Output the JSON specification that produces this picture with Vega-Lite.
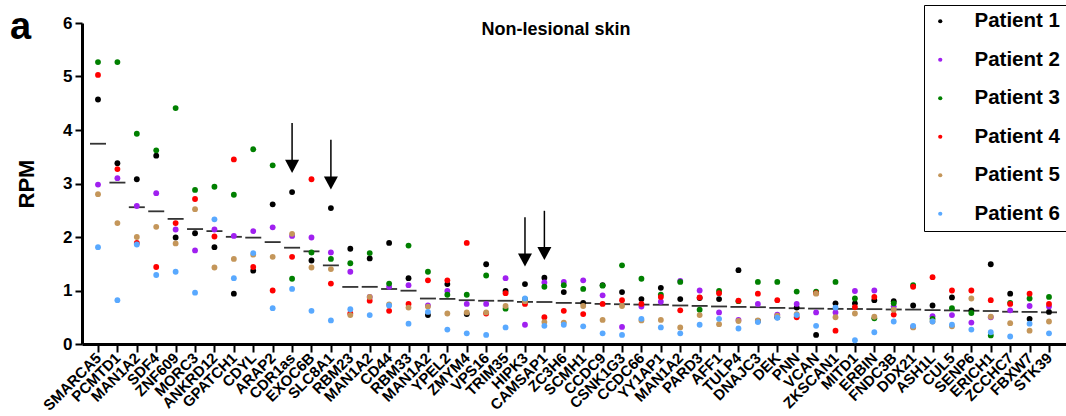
{
  "$schema": "https://vega.github.io/schema/vega-lite/v6.json",
  "width": 984,
  "height": 321,
  "autosize": {"type": "none"},
  "padding": {"left": 82, "top": 23, "right": 0, "bottom": 72},
  "background": "white",
  "title": {"text": "a", "anchor": "start", "frame": "group", "fontSize": 38, "fontWeight": "bold", "font": "Liberation Sans", "color": "black", "dx": -72, "offset": 0, "dy": 72, "baseline": "alphabetic"},
  "config": {
    "view": {"stroke": null},
    "font": "Liberation Sans"
  },
  "datasets": {
    "genes": [
      {"i":1,"g":"SMARCA5","Patient 1":4.57,"Patient 2":2.98,"Patient 3":5.27,"Patient 4":5.03,"Patient 5":2.80,"Patient 6":1.81},
      {"i":2,"g":"PCMTD1","Patient 1":3.38,"Patient 2":3.10,"Patient 3":5.27,"Patient 4":3.27,"Patient 5":2.26,"Patient 6":0.82},
      {"i":3,"g":"MAN1A2","Patient 1":3.08,"Patient 2":2.58,"Patient 3":3.93,"Patient 4":1.89,"Patient 5":2.00,"Patient 6":1.86},
      {"i":4,"g":"SDF4","Patient 1":3.52,"Patient 2":2.82,"Patient 3":3.62,"Patient 4":1.44,"Patient 5":2.19,"Patient 6":1.29},
      {"i":5,"g":"ZNF609","Patient 1":1.99,"Patient 2":2.14,"Patient 3":4.41,"Patient 4":2.26,"Patient 5":1.88,"Patient 6":1.35},
      {"i":6,"g":"MORC3","Patient 1":2.07,"Patient 2":1.75,"Patient 3":2.88,"Patient 4":2.71,"Patient 5":2.52,"Patient 6":0.96},
      {"i":7,"g":"ANKRD12","Patient 1":1.81,"Patient 2":2.14,"Patient 3":2.94,"Patient 4":2.01,"Patient 5":1.43,"Patient 6":2.33},
      {"i":8,"g":"GPATCH1","Patient 1":0.94,"Patient 2":2.02,"Patient 3":2.79,"Patient 4":3.45,"Patient 5":1.59,"Patient 6":1.23},
      {"i":9,"g":"CDYL","Patient 1":1.37,"Patient 2":2.11,"Patient 3":3.64,"Patient 4":1.44,"Patient 5":1.67,"Patient 6":1.70},
      {"i":10,"g":"ARAP2","Patient 1":2.61,"Patient 2":2.18,"Patient 3":3.34,"Patient 4":1.00,"Patient 5":1.63,"Patient 6":0.67},
      {"i":11,"g":"CDR1as","Patient 1":2.84,"Patient 2":2.02,"Patient 3":1.22,"Patient 4":1.63,"Patient 5":2.06,"Patient 6":1.03},
      {"i":12,"g":"EXOC6B","Patient 1":1.56,"Patient 2":1.99,"Patient 3":1.71,"Patient 4":3.08,"Patient 5":1.43,"Patient 6":0.62},
      {"i":13,"g":"SLC8A1","Patient 1":2.54,"Patient 2":1.71,"Patient 3":1.59,"Patient 4":1.13,"Patient 5":1.40,"Patient 6":0.44},
      {"i":14,"g":"RBM23","Patient 1":1.78,"Patient 2":1.35,"Patient 3":1.51,"Patient 4":0.57,"Patient 5":0.54,"Patient 6":0.65},
      {"i":15,"g":"MAN1A2","Patient 1":1.60,"Patient 2":0.88,"Patient 3":1.70,"Patient 4":0.81,"Patient 5":0.88,"Patient 6":0.54},
      {"i":16,"g":"CD44","Patient 1":1.89,"Patient 2":1.07,"Patient 3":1.13,"Patient 4":0.62,"Patient 5":0.74,"Patient 6":0.72},
      {"i":17,"g":"RBM33","Patient 1":1.23,"Patient 2":1.10,"Patient 3":1.84,"Patient 4":0.75,"Patient 5":0.68,"Patient 6":0.38},
      {"i":18,"g":"MAN1A2","Patient 1":0.54,"Patient 2":0.72,"Patient 3":1.35,"Patient 4":1.19,"Patient 5":0.70,"Patient 6":0.60},
      {"i":19,"g":"YPEL2","Patient 1":1.12,"Patient 2":0.99,"Patient 3":0.92,"Patient 4":1.19,"Patient 5":0.57,"Patient 6":0.27},
      {"i":20,"g":"ZMYM4","Patient 1":0.56,"Patient 2":0.75,"Patient 3":0.92,"Patient 4":1.89,"Patient 5":0.59,"Patient 6":0.20},
      {"i":21,"g":"VPS16","Patient 1":1.49,"Patient 2":0.75,"Patient 3":1.28,"Patient 4":0.57,"Patient 5":0.59,"Patient 6":0.17},
      {"i":22,"g":"TRIM35","Patient 1":0.99,"Patient 2":1.23,"Patient 3":0.66,"Patient 4":0.95,"Patient 5":0.71,"Patient 6":0.31},
      {"i":23,"g":"HIPK3","Patient 1":1.12,"Patient 2":0.36,"Patient 3":0.84,"Patient 4":0.75,"Patient 5":0.80,"Patient 6":0.85},
      {"i":24,"g":"CAMSAP1","Patient 1":1.24,"Patient 2":1.15,"Patient 3":1.07,"Patient 4":0.50,"Patient 5":0.41,"Patient 6":0.34},
      {"i":25,"g":"ZC3H6","Patient 1":0.97,"Patient 2":1.16,"Patient 3":1.10,"Patient 4":0.62,"Patient 5":0.40,"Patient 6":0.36},
      {"i":26,"g":"SCMH1","Patient 1":0.77,"Patient 2":1.19,"Patient 3":1.03,"Patient 4":0.56,"Patient 5":0.71,"Patient 6":0.33},
      {"i":27,"g":"CCDC9","Patient 1":1.10,"Patient 2":0.91,"Patient 3":1.09,"Patient 4":0.75,"Patient 5":0.45,"Patient 6":0.20},
      {"i":28,"g":"CSNK1G3","Patient 1":0.97,"Patient 2":0.32,"Patient 3":1.47,"Patient 4":0.82,"Patient 5":0.71,"Patient 6":0.17},
      {"i":29,"g":"CCDC66","Patient 1":0.84,"Patient 2":0.70,"Patient 3":1.22,"Patient 4":0.75,"Patient 5":0.44,"Patient 6":0.47},
      {"i":30,"g":"YY1AP1","Patient 1":1.05,"Patient 2":0.79,"Patient 3":0.92,"Patient 4":0.88,"Patient 5":0.45,"Patient 6":0.31},
      {"i":31,"g":"MAN1A2","Patient 1":0.84,"Patient 2":1.18,"Patient 3":1.16,"Patient 4":0.63,"Patient 5":0.31,"Patient 6":0.20},
      {"i":32,"g":"PARD3","Patient 1":0.86,"Patient 2":1.00,"Patient 3":0.64,"Patient 4":0.87,"Patient 5":0.54,"Patient 6":0.36},
      {"i":33,"g":"AFF1","Patient 1":0.84,"Patient 2":0.59,"Patient 3":0.99,"Patient 4":0.95,"Patient 5":0.37,"Patient 6":0.47},
      {"i":34,"g":"TULP4","Patient 1":1.38,"Patient 2":0.45,"Patient 3":0.80,"Patient 4":0.81,"Patient 5":0.43,"Patient 6":0.29},
      {"i":35,"g":"DNAJC3","Patient 1":0.43,"Patient 2":0.75,"Patient 3":1.16,"Patient 4":0.94,"Patient 5":0.44,"Patient 6":0.41},
      {"i":36,"g":"DEK","Patient 1":0.50,"Patient 2":0.55,"Patient 3":1.16,"Patient 4":0.82,"Patient 5":0.53,"Patient 6":0.49},
      {"i":37,"g":"PNN","Patient 1":0.68,"Patient 2":0.75,"Patient 3":0.98,"Patient 4":0.50,"Patient 5":0.56,"Patient 6":0.54},
      {"i":38,"g":"VCAN","Patient 1":0.17,"Patient 2":0.59,"Patient 3":0.98,"Patient 4":0.95,"Patient 5":0.94,"Patient 6":0.34},
      {"i":39,"g":"ZKSCAN1","Patient 1":0.76,"Patient 2":0.59,"Patient 3":1.16,"Patient 4":0.25,"Patient 5":0.50,"Patient 6":0.68},
      {"i":40,"g":"MITD1","Patient 1":0.76,"Patient 2":0.99,"Patient 3":0.85,"Patient 4":0.69,"Patient 5":0.57,"Patient 6":0.07},
      {"i":41,"g":"ERBIN","Patient 1":0.82,"Patient 2":1.00,"Patient 3":0.48,"Patient 4":0.88,"Patient 5":0.51,"Patient 6":0.22},
      {"i":42,"g":"FNDC3B","Patient 1":0.80,"Patient 2":0.70,"Patient 3":0.76,"Patient 4":0.55,"Patient 5":0.64,"Patient 6":0.42},
      {"i":43,"g":"DDX21","Patient 1":0.72,"Patient 2":0.32,"Patient 3":1.10,"Patient 4":1.07,"Patient 5":0.31,"Patient 6":0.34},
      {"i":44,"g":"ASH1L","Patient 1":0.72,"Patient 2":0.52,"Patient 3":0.47,"Patient 4":1.25,"Patient 5":0.42,"Patient 6":0.42},
      {"i":45,"g":"CUL5","Patient 1":0.87,"Patient 2":0.54,"Patient 3":0.67,"Patient 4":1.00,"Patient 5":0.33,"Patient 6":0.36},
      {"i":46,"g":"SENP6","Patient 1":0.63,"Patient 2":0.40,"Patient 3":0.58,"Patient 4":1.00,"Patient 5":0.85,"Patient 6":0.27},
      {"i":47,"g":"ERICH1","Patient 1":1.49,"Patient 2":0.50,"Patient 3":0.16,"Patient 4":0.82,"Patient 5":0.51,"Patient 6":0.22},
      {"i":48,"g":"ZCCHC7","Patient 1":0.94,"Patient 2":0.63,"Patient 3":0.77,"Patient 4":0.75,"Patient 5":0.39,"Patient 6":0.14},
      {"i":49,"g":"FBXW7","Patient 1":0.47,"Patient 2":0.71,"Patient 3":0.85,"Patient 4":0.94,"Patient 5":0.25,"Patient 6":0.38},
      {"i":50,"g":"STK39","Patient 1":0.60,"Patient 2":0.70,"Patient 3":0.88,"Patient 4":0.75,"Patient 5":0.42,"Patient 6":0.20}
    ],
    "arrows": [
      {"i": 11, "top": 4.13, "head": 3.32},
      {"i": 13, "top": 3.82, "head": 3.01},
      {"i": 23, "top": 2.37, "head": 1.57},
      {"i": 24, "top": 2.49, "head": 1.69}
    ],
    "label": [
      {"i": 24.6, "y": 5.78, "t": "Non-lesional skin"}
    ]
  },
  "encoding": {
    "x": {
      "field": "i", "type": "quantitative",
      "scale": {"domain": [0.1756, 50.876], "nice": false, "zero": false},
      "axis": {
        "values": [1,2,3,4,5,6,7,8,9,10,11,12,13,14,15,16,17,18,19,20,21,22,23,24,25,26,27,28,29,30,31,32,33,34,35,36,37,38,39,40,41,42,43,44,45,46,47,48,49,50],
        "labelExpr": "['SMARCA5','PCMTD1','MAN1A2','SDF4','ZNF609','MORC3','ANKRD12','GPATCH1','CDYL','ARAP2','CDR1as','EXOC6B','SLC8A1','RBM23','MAN1A2','CD44','RBM33','MAN1A2','YPEL2','ZMYM4','VPS16','TRIM35','HIPK3','CAMSAP1','ZC3H6','SCMH1','CCDC9','CSNK1G3','CCDC66','YY1AP1','MAN1A2','PARD3','AFF1','TULP4','DNAJC3','DEK','PNN','VCAN','ZKSCAN1','MITD1','ERBIN','FNDC3B','DDX21','ASH1L','CUL5','SENP6','ERICH1','ZCCHC7','FBXW7','STK39'][datum.value-1]",
        "labelAngle": -45, "labelAlign": "right", "labelBaseline": "middle",
        "labelFont": "Liberation Sans", "labelFontSize": 15, "labelFontWeight": "bold", "labelColor": "black",
        "labelPadding": 3, "labelOverlap": false, "labelBound": false, "labelFlush": false,
        "domainColor": "black", "domainWidth": 3, "tickColor": "black", "tickWidth": 2, "tickSize": 8,
        "grid": false, "title": null
      }
    }
  },
  "layer": [
    {
      "data": {"name": "genes"},
      "transform": [{"fold": ["Patient 1","Patient 2","Patient 3","Patient 4","Patient 5","Patient 6"], "as": ["patient","rpm"]}],
      "mark": {"type": "tick", "orient": "horizontal", "size": 16, "thickness": 1.8, "color": "#333333"},
      "encoding": {
        "y": {
          "aggregate": "mean", "field": "rpm", "type": "quantitative",
          "scale": {"domain": [0, 6], "nice": false},
          "axis": {
            "values": [0,1,2,3,4,5,6], "format": "d", "labelFont": "Liberation Sans", "labelFontSize": 17, "labelFontWeight": "bold", "labelColor": "black",
            "labelPadding": 3, "domainColor": "black", "domainWidth": 3, "tickColor": "black", "tickWidth": 2, "tickSize": 7,
            "grid": false, "title": "RPM", "titleFont": "Liberation Sans", "titleFontSize": 22, "titleFontWeight": "bold", "titleColor": "black", "titlePadding": 24
          }
        }
      }
    },
    {
      "data": {"name": "genes"},
      "transform": [{"fold": ["Patient 1","Patient 2","Patient 3","Patient 4","Patient 5","Patient 6"], "as": ["patient","rpm"]}],
      "mark": {"type": "point", "filled": true, "shape": "circle", "size": 34, "opacity": 1, "strokeWidth": 0},
      "encoding": {
        "y": {"field": "rpm", "type": "quantitative"},
        "color": {
          "field": "patient", "type": "nominal",
          "scale": {"domain": ["Patient 1","Patient 2","Patient 3","Patient 4","Patient 5","Patient 6"], "range": ["#000000","#A020F0","#008000","#FF0000","#C4965A","#59A9FF"]},
          "legend": {
            "title": null, "orient": "none", "legendX": 842, "legendY": -18,
            "strokeColor": "black", "padding": 6, "symbolOffset": 0,
            "labelFont": "Liberation Sans", "labelFontSize": 20.5, "labelFontWeight": "bold", "labelColor": "black",
            "labelOffset": 24, "symbolSize": 18, "symbolType": "circle", "symbolStrokeWidth": 0, "rowPadding": 17.5,
            "encode": {"legend": {"update": {"strokeWidth": {"value": 2}}}}
          }
        }
      }
    },
    {
      "data": {"name": "arrows"},
      "mark": {"type": "rule", "color": "black", "strokeWidth": 1.5},
      "encoding": {
        "y": {"field": "top", "type": "quantitative"},
        "y2": {"field": "head"}
      }
    },
    {
      "data": {"name": "arrows"},
      "mark": {"type": "point", "filled": true, "shape": "M-1,-0.93L1,-0.93L0,0.93Z", "size": 196, "color": "black", "opacity": 1, "strokeWidth": 0},
      "encoding": {
        "y": {"field": "head", "type": "quantitative"}
      }
    },
    {
      "data": {"name": "label"},
      "mark": {"type": "text", "font": "Liberation Sans", "fontSize": 18, "fontWeight": "bold", "color": "black", "align": "center", "baseline": "alphabetic"},
      "encoding": {
        "y": {"field": "y", "type": "quantitative"},
        "text": {"field": "t"}
      }
    }
  ]
}
